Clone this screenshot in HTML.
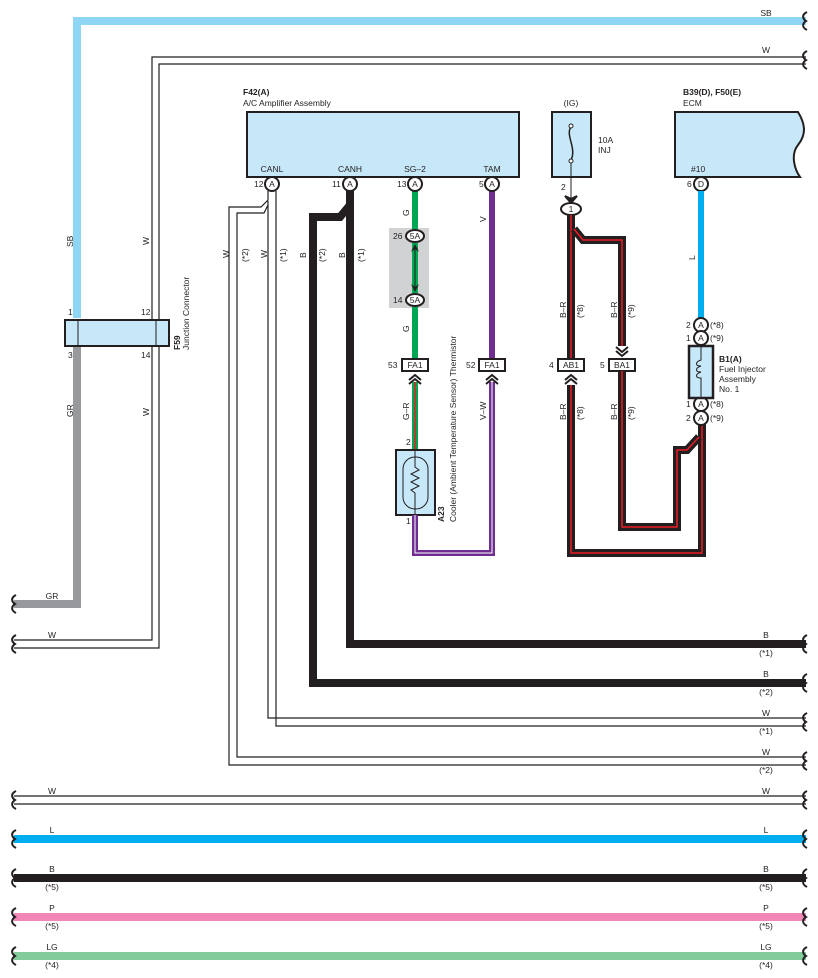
<!DOCTYPE html>
<html><head><meta charset="utf-8"><style>
html,body{margin:0;padding:0;background:#fff}
svg{display:block}
text{font-family:"Liberation Sans",sans-serif;font-size:8.5px;fill:#231f20}
.b{font-weight:bold}
.bk{fill:none;stroke:#231f20;stroke-width:1.2}
</style></head><body>
<svg width="818" height="978" viewBox="0 0 818 978" xmlns="http://www.w3.org/2000/svg">
<defs>
<path id="brR" d="M0,-9 C-6,-6 -4,-2 -1,0 C-4,2 -6,6 0,9" fill="none" stroke="#231f20" stroke-width="2"/>
<path id="brL" d="M0,-9 C-6,-6 -4,-2 -1,0 C-4,2 -6,6 0,9" fill="none" stroke="#231f20" stroke-width="2"/>
</defs>

<!-- SB -->
<path d="M77,318 V21 H806" fill="none" stroke="#8fd6f5" stroke-width="8"/>
<!-- W top -->
<path d="M806,57 H152 V640 H14" class="bk"/>
<path d="M806,64 H159 V648 H14" class="bk"/>
<!-- GR -->
<path d="M77,346 V604 H14" fill="none" stroke="#98999c" stroke-width="8"/>
<!-- Junction connector -->
<rect x="65" y="320" width="104" height="26" fill="#c6e8f8" stroke="#231f20" stroke-width="2"/>
<line x1="78" y1="320" x2="78" y2="346" stroke="#231f20"/>
<line x1="156" y1="320" x2="156" y2="346" stroke="#231f20"/>
<text x="68" y="315">1</text><text x="141" y="315">12</text>
<text x="68" y="358">3</text><text x="141" y="358">14</text>
<text transform="translate(180,350) rotate(-90)" class="b">F59</text>
<text transform="translate(189,350) rotate(-90)">Junction Connector</text>
<text transform="translate(73,247) rotate(-90)">SB</text>
<text transform="translate(149,245) rotate(-90)">W</text>
<text transform="translate(73,417) rotate(-90)">GR</text>
<text transform="translate(149,416) rotate(-90)">W</text>
<text transform="translate(229,258) rotate(-90)">W</text>

<!-- A/C amp -->
<text x="243" y="95" class="b">F42(A)</text>
<text x="243" y="106">A/C Amplifier Assembly</text>
<rect x="247" y="112" width="272" height="65" fill="#c6e8f8" stroke="#231f20" stroke-width="2"/>
<text x="272" y="172" text-anchor="middle">CANL</text>
<text x="350" y="172" text-anchor="middle">CANH</text>
<text x="415" y="172" text-anchor="middle">SG–2</text>
<text x="492" y="172" text-anchor="middle">TAM</text>

<!-- W wires CANL -->
<path d="M268,191 V200 L261,207 H229 V765 H806" class="bk"/>
<path d="M276,191 V726 H806" class="bk"/>
<path d="M268,201 V718 H806" class="bk"/>
<path d="M268,205 L264,213 H237 V757 H806" class="bk"/>
<!-- B wires CANH -->
<path d="M350,190 V644 H806" fill="none" stroke="#231f20" stroke-width="8"/>
<path d="M350,205 L340,217 H313 V683 H806" fill="none" stroke="#231f20" stroke-width="8"/>
<text transform="translate(226,258) rotate(0)"></text>
<text transform="translate(248,262) rotate(-90)">(*2)</text>
<text transform="translate(267,258) rotate(-90)">W</text>
<text transform="translate(286,262) rotate(-90)">(*1)</text>
<text transform="translate(306,258) rotate(-90)">B</text>
<text transform="translate(325,262) rotate(-90)">(*2)</text>
<text transform="translate(345,258) rotate(-90)">B</text>
<text transform="translate(364,262) rotate(-90)">(*1)</text>

<!-- SG-2 green -->
<rect x="389" y="228" width="40" height="80" fill="#d1d2d4"/>
<path d="M415,190 V229 M415,243 V293 M415,307 V360" stroke="#00a651" stroke-width="6"/>
<line x1="415" y1="246" x2="415" y2="290" stroke="#231f20"/>
<path d="M411,252 L415,244 L419,252 L415,249Z M411,284 L415,292 L419,284 L415,287Z" fill="#231f20"/>
<ellipse cx="415" cy="236" rx="9" ry="6" fill="#fff" stroke="#231f20" stroke-width="2"/>
<text x="415" y="239" text-anchor="middle">5A</text><text x="393" y="239">26</text>
<ellipse cx="415" cy="300" rx="9" ry="6" fill="#fff" stroke="#231f20" stroke-width="2"/>
<text x="415" y="303" text-anchor="middle">5A</text><text x="393" y="303">14</text>
<text transform="translate(409,216) rotate(-90)">G</text>
<text transform="translate(409,332) rotate(-90)">G</text>
<!-- G-R -->
<path d="M415,382 V452" stroke="#00a651" stroke-width="6"/>
<path d="M415,382 V452" stroke="#ed1c24" stroke-width="1.5"/>
<text transform="translate(409,420) rotate(-90)">G–R</text>
<text x="406" y="445">2</text>
<text x="406" y="524">1</text>
<!-- thermistor -->
<rect x="396" y="450" width="39" height="65" fill="#c6e8f8" stroke="#231f20" stroke-width="2"/>
<rect x="403" y="457" width="25" height="52" rx="12" fill="none" stroke="#231f20"/>
<path d="M415,450 V467 L419,470 L411,474 L419,478 L411,482 L419,486 L411,490 L415,493 V515" fill="none" stroke="#231f20"/>
<text transform="translate(444,522) rotate(-90)" class="b">A23</text>
<text transform="translate(456,522) rotate(-90)">Cooler (Ambient Temperature Sensor) Thermistor</text>
<!-- violet -->
<path d="M492,190 V360" stroke="#6f2c91" stroke-width="6"/>
<path d="M415,515 V553 H492 V382" fill="none" stroke="#6f2c91" stroke-width="6"/>
<path d="M415,515 V553 H492 V382" fill="none" stroke="#fff" stroke-width="1"/>
<text transform="translate(486,222) rotate(-90)">V</text>
<text transform="translate(486,420) rotate(-90)">V–W</text>

<!-- pins A -->
<g stroke="#231f20" stroke-width="2" fill="#fff">
<circle cx="272" cy="184" r="7"/><circle cx="350" cy="184" r="7"/><circle cx="415" cy="184" r="7"/><circle cx="492" cy="184" r="7"/>
<circle cx="701" cy="184" r="7"/>
</g>
<text x="272" y="187" text-anchor="middle">A</text><text x="350" y="187" text-anchor="middle">A</text>
<text x="415" y="187" text-anchor="middle">A</text><text x="492" y="187" text-anchor="middle">A</text>
<text x="701" y="187" text-anchor="middle">D</text>
<text x="254" y="187">12</text><text x="332" y="187">11</text><text x="397" y="187">13</text><text x="479" y="187">5</text><text x="687" y="187">6</text>

<!-- FA1 connectors -->
<g fill="#fff" stroke="#231f20" stroke-width="2">
<rect x="402" y="359" width="26" height="12"/><rect x="479" y="359" width="26" height="12"/>
<rect x="558" y="359" width="26" height="12"/><rect x="609" y="359" width="26" height="12"/>
</g>
<text x="415" y="368" text-anchor="middle">FA1</text><text x="492" y="368" text-anchor="middle">FA1</text>
<text x="571" y="368" text-anchor="middle">AB1</text><text x="622" y="368" text-anchor="middle">BA1</text>
<text x="388" y="368">53</text><text x="466" y="368">52</text><text x="549" y="368">4</text><text x="600" y="368">5</text>
<g fill="none" stroke="#231f20" stroke-width="2">
<path d="M409,380 L415,375 L421,380 M409,384 L415,379 L421,384"/>
<path d="M486,380 L492,375 L498,380 M486,384 L492,379 L498,384"/>
<path d="M565,380 L571,375 L577,380 M565,384 L571,379 L577,384"/>
<path d="M616,347 L622,352 L628,347 M616,351 L622,356 L628,351"/>
</g>

<!-- Fuse -->
<text x="571" y="106" text-anchor="middle">(IG)</text>
<rect x="552" y="112" width="39" height="65" fill="#c6e8f8" stroke="#231f20" stroke-width="2"/>
<path d="M571,127 C565,135 577,148 571,160" fill="none" stroke="#231f20" stroke-width="1.5"/>
<circle cx="571" cy="126" r="2" fill="#fff" stroke="#231f20"/><circle cx="571" cy="161" r="2" fill="#fff" stroke="#231f20"/>
<text x="598" y="143">10A</text><text x="598" y="153">INJ</text>
<line x1="571" y1="163" x2="571" y2="200" stroke="#231f20"/>
<path d="M565,196 L571,203 L577,196 L571,199Z" fill="#231f20" stroke="#231f20" stroke-width="2"/>
<text x="561" y="190">2</text>
<ellipse cx="571" cy="209" rx="10" ry="6" fill="#fff" stroke="#231f20" stroke-width="2"/>
<text x="571" y="212" text-anchor="middle">1</text>

<!-- B-R wires -->
<g fill="none" stroke-linejoin="miter">
<path d="M571,215 V358" stroke="#231f20" stroke-width="8"/>
<path d="M571,215 V358" stroke="#ed1c24" stroke-width="1.5"/>
<path d="M574,229 L583,240 H622 V346" stroke="#231f20" stroke-width="8"/>
<path d="M574,229 L583,240 H622 V346" stroke="#ed1c24" stroke-width="1.5"/>
<path d="M571,385 V553 H702 V418" stroke="#231f20" stroke-width="8"/>
<path d="M571,385 V553 H702 V418" stroke="#ed1c24" stroke-width="1.5"/>
<path d="M622,371 V527 H677 V450 H687 L699,437" stroke="#231f20" stroke-width="8"/>
<path d="M622,371 V527 H677 V450 H687 L699,437" stroke="#ed1c24" stroke-width="1.5"/>
</g>
<text transform="translate(566,318) rotate(-90)">B–R</text>
<text transform="translate(583,318) rotate(-90)">(*8)</text>
<text transform="translate(617,318) rotate(-90)">B–R</text>
<text transform="translate(634,318) rotate(-90)">(*9)</text>
<text transform="translate(566,420) rotate(-90)">B–R</text>
<text transform="translate(583,420) rotate(-90)">(*8)</text>
<text transform="translate(617,420) rotate(-90)">B–R</text>
<text transform="translate(634,420) rotate(-90)">(*9)</text>

<!-- ECM -->
<text x="683" y="95" class="b">B39(D), F50(E)</text>
<text x="683" y="106">ECM</text>
<path d="M675,112 H798 C806,125 806,135 798,145 C790,155 795,170 800,177 H675Z" fill="#c6e8f8" stroke="#231f20" stroke-width="2"/>
<text x="691" y="172">#10</text>
<path d="M701,191 V318" stroke="#00aeef" stroke-width="6"/>
<text transform="translate(695,260) rotate(-90)">L</text>

<!-- injector -->
<g stroke="#231f20" stroke-width="2" fill="#fff">
<circle cx="701" cy="325" r="7"/><circle cx="701" cy="338" r="7"/><circle cx="701" cy="404" r="7"/><circle cx="701" cy="418" r="7"/>
</g>
<g text-anchor="middle"><text x="701" y="328">A</text><text x="701" y="341">A</text><text x="701" y="407">A</text><text x="701" y="421">A</text></g>
<text x="686" y="328">2</text><text x="686" y="341">1</text><text x="686" y="407">1</text><text x="686" y="421">2</text>
<text x="710" y="328">(*8)</text><text x="710" y="341">(*9)</text><text x="710" y="407">(*8)</text><text x="710" y="421">(*9)</text>
<rect x="689" y="346" width="24" height="52" fill="#c6e8f8" stroke="#231f20" stroke-width="2.5"/>
<path d="M701,346 V360 C695,362 695,366 701,366 C695,368 695,372 701,372 C695,374 695,378 701,378 V398" fill="none" stroke="#231f20"/>
<text x="719" y="362" class="b">B1(A)</text>
<text x="719" y="372">Fuel Injector</text>
<text x="719" y="382">Assembly</text>
<text x="719" y="392">No.  1</text>

<!-- bottom wires -->
<path d="M14,796 H806 M14,804 H806" class="bk"/>
<path d="M14,839 H806" stroke="#00aeef" stroke-width="8"/>
<path d="M14,878 H806" stroke="#231f20" stroke-width="8"/>
<path d="M14,917 H806" stroke="#f287b7" stroke-width="8"/>
<path d="M14,956 H806" stroke="#82cc9b" stroke-width="8"/>

<!-- brackets right -->
<g>
<use href="#brR" x="807" y="21"/><use href="#brR" x="807" y="60"/>
<use href="#brR" x="807" y="644"/><use href="#brR" x="807" y="683"/>
<use href="#brR" x="807" y="722"/><use href="#brR" x="807" y="761"/>
<use href="#brR" x="807" y="800"/><use href="#brR" x="807" y="839"/>
<use href="#brR" x="807" y="878"/><use href="#brR" x="807" y="917"/><use href="#brR" x="807" y="956"/>
<use href="#brL" x="16" y="604"/><use href="#brL" x="16" y="644"/>
<use href="#brL" x="16" y="800"/><use href="#brL" x="16" y="839"/>
<use href="#brL" x="16" y="878"/><use href="#brL" x="16" y="917"/><use href="#brL" x="16" y="956"/>
</g>
<g text-anchor="middle">
<text x="766" y="16">SB</text><text x="766" y="53">W</text>
<text x="766" y="638">B</text><text x="766" y="656">(*1)</text>
<text x="766" y="677">B</text><text x="766" y="695">(*2)</text>
<text x="766" y="716">W</text><text x="766" y="734">(*1)</text>
<text x="766" y="755">W</text><text x="766" y="773">(*2)</text>
<text x="766" y="794">W</text>
<text x="766" y="833">L</text>
<text x="766" y="872">B</text><text x="766" y="890">(*5)</text>
<text x="766" y="911">P</text><text x="766" y="929">(*5)</text>
<text x="766" y="950">LG</text><text x="766" y="968">(*4)</text>
<text x="52" y="599">GR</text><text x="52" y="638">W</text>
<text x="52" y="794">W</text>
<text x="52" y="833">L</text>
<text x="52" y="872">B</text><text x="52" y="890">(*5)</text>
<text x="52" y="911">P</text><text x="52" y="929">(*5)</text>
<text x="52" y="950">LG</text><text x="52" y="968">(*4)</text>
</g>
</svg>
</body></html>
